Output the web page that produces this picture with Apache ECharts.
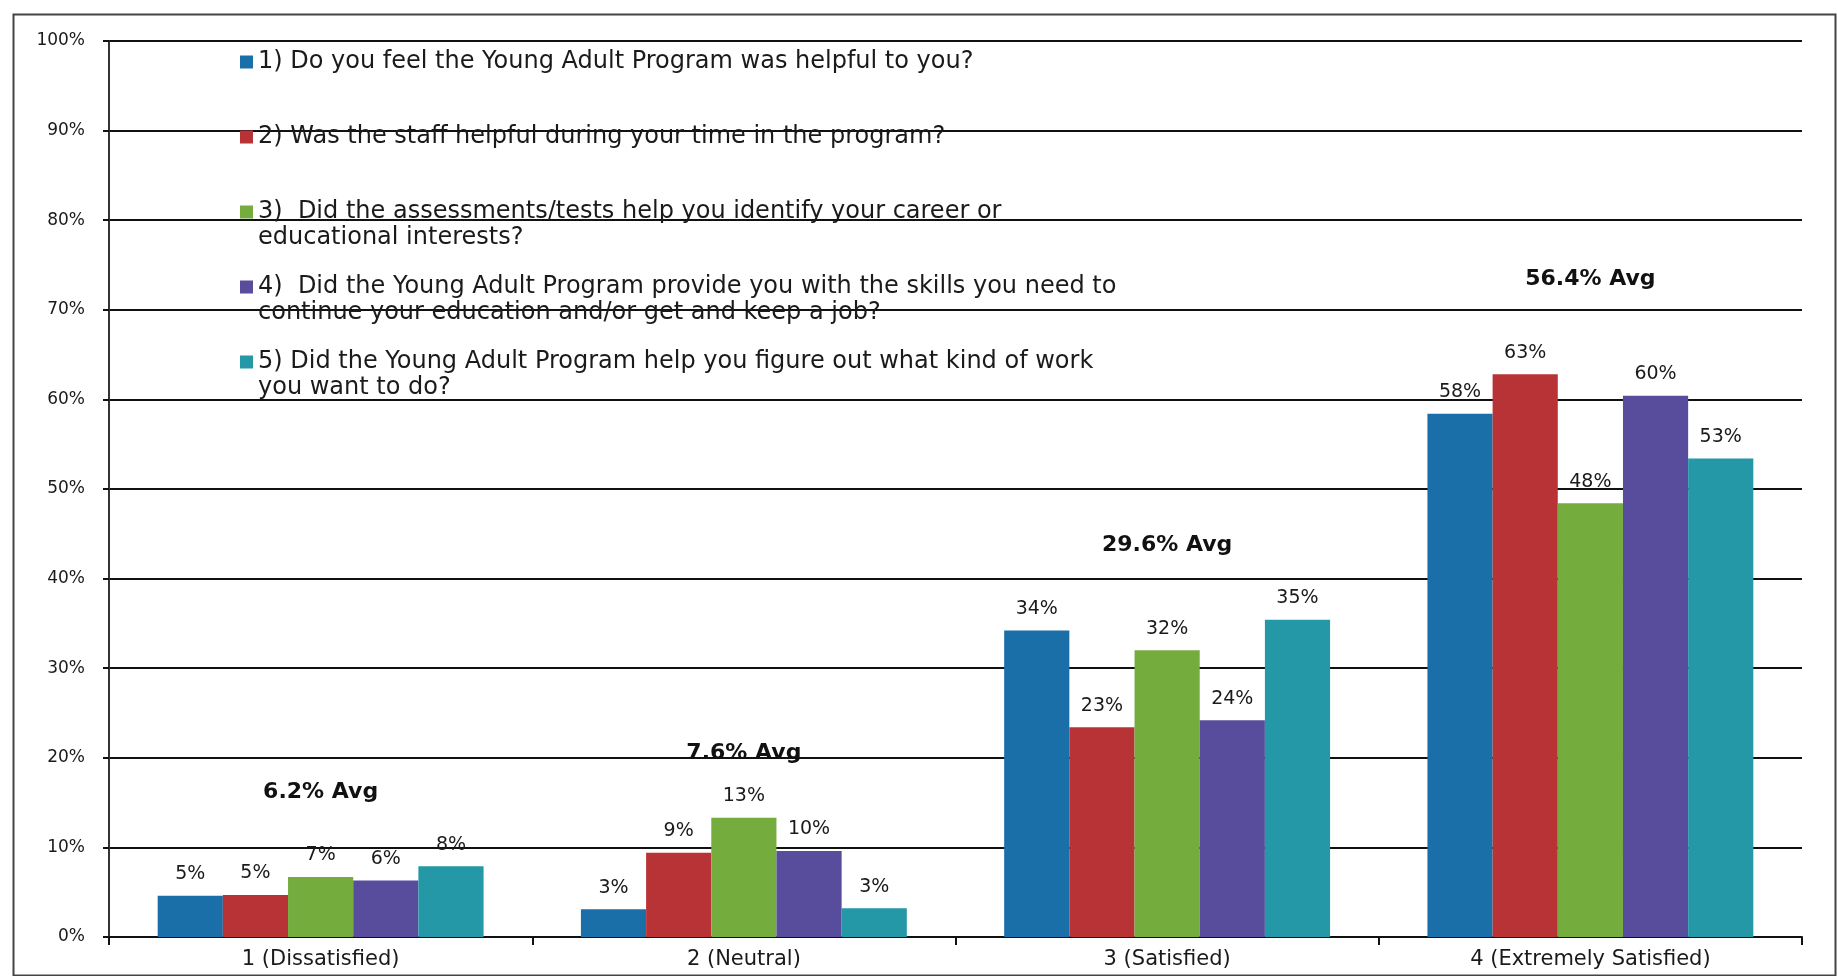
<!DOCTYPE html>
<html>
<head>
<meta charset="utf-8">
<script src="https://cdn.jsdelivr.net/npm/echarts@6/dist/echarts.min.js"></script>
<style>
html,body{margin:0;padding:0;background:#fff;}
#chart{width:1837px;height:976px;}
</style>
</head>
<body>
<div id="chart"></div>
<script>
const categories = ['1 (Dissatisfied)', '2 (Neutral)', '3 (Satisfied)', '4 (Extremely Satisfied)'];
const seriesNames = [
  '1) Do you feel the Young Adult Program was helpful to you?',
  '2) Was the staff helpful during your time in the program?',
  '3)  Did the assessments/tests help you identify your career or\neducational interests?',
  '4)  Did the Young Adult Program provide you with the skills you need to\ncontinue your education and/or get and keep a job?',
  '5) Did the Young Adult Program help you figure out what kind of work\nyou want to do?'
];
const q1 = [4.6, 3.1, 34.2, 58.4];
const q2 = [4.7, 9.4, 23.4, 62.8];
const q3 = [6.7, 13.3, 32.0, 48.4];
const q4 = [6.3, 9.6, 24.2, 60.4];
const q5 = [7.9, 3.2, 35.4, 53.4];
const avgLabels = ['6.2% Avg', '7.6% Avg', '29.6% Avg', '56.4% Avg'];
const avgLabelY = [16.2, 20.5, 43.7, 73.4];
const yTicks = [0, 10, 20, 30, 40, 50, 60, 70, 80, 90, 100];

const colors = ['#1b6fa8', '#b83336', '#74ad3e', '#584d9d', '#2598a7'];
const seriesData = [q1, q2, q3, q4, q5];
const FONT = 'DejaVu Sans';
const LH = 26;

const chart = echarts.init(document.getElementById('chart'));

const legendTops = [49, 124, 173, 248, 323];
const legends = seriesNames.map((n, i) => ({
  data: [n],
  left: 240,
  top: legendTops[i],
  padding: 0,
  itemWidth: 13,
  itemHeight: 13,
  itemGap: 0,
  icon: 'rect',
  selectedMode: false,
  formatter: name => (name.indexOf('\n') >= 0 ? '\n' + name : name),
  textStyle: { fontFamily: FONT, fontSize: 24, color: '#1a1a1a', lineHeight: LH }
}));

const option = {
  animation: false,
  backgroundColor: '#fff',
  color: colors,
  graphic: [{
    type: 'rect', left: 11, top: 12, z: -10,
    shape: { width: 1822, height: 961 },
    style: { fill: 'none', stroke: '#444', lineWidth: 2 }
  }],
  legend: legends,
  grid: { left: 109, right: 35, top: 41, bottom: 39, containLabel: false },
  xAxis: {
    type: 'category',
    data: categories,
    axisLine: { show: true, lineStyle: { color: '#111', width: 2 } },
    axisTick: { show: true, length: 8, lineStyle: { color: '#111', width: 2 } },
    axisLabel: { fontFamily: FONT, fontSize: 21, color: '#1a1a1a', margin: 12 }
  },
  yAxis: {
    type: 'value',
    min: 0, max: 100, interval: 10,
    axisLine: { show: true, lineStyle: { color: '#333', width: 2 } },
    axisTick: { show: true, length: 6, lineStyle: { color: '#111', width: 2 } },
    splitLine: { show: true, lineStyle: { color: '#111', width: 2 } },
    axisLabel: {
      fontFamily: FONT, fontSize: 17, color: '#1a1a1a', margin: 24,
      formatter: v => (yTicks.indexOf(v) >= 0 ? v + '%' : '')
    }
  },
  series: seriesData.map((d, i) => ({
    name: seriesNames[i],
    type: 'bar',
    data: d,
    barGap: '0%',
    barCategoryGap: '23%',
    itemStyle: { color: colors[i] },
    label: {
      show: true, position: 'top', distance: 12,
      fontFamily: FONT, fontSize: 19, color: '#1a1a1a',
      formatter: p => Math.round(p.value) + '%'
    }
  })).concat([{
    name: 'avg',
    type: 'scatter',
    data: avgLabelY.map((v, i) => [i, v]),
    symbolSize: 1,
    itemStyle: { color: 'rgba(0,0,0,0)' },
    z: 10,
    label: {
      show: true, position: 'inside', opacity: 1,
      fontFamily: FONT, fontSize: 22, fontWeight: 'bold', color: '#111',
      formatter: p => avgLabels[p.dataIndex]
    }
  }])
};
chart.setOption(option);
</script>
</body>
</html>
